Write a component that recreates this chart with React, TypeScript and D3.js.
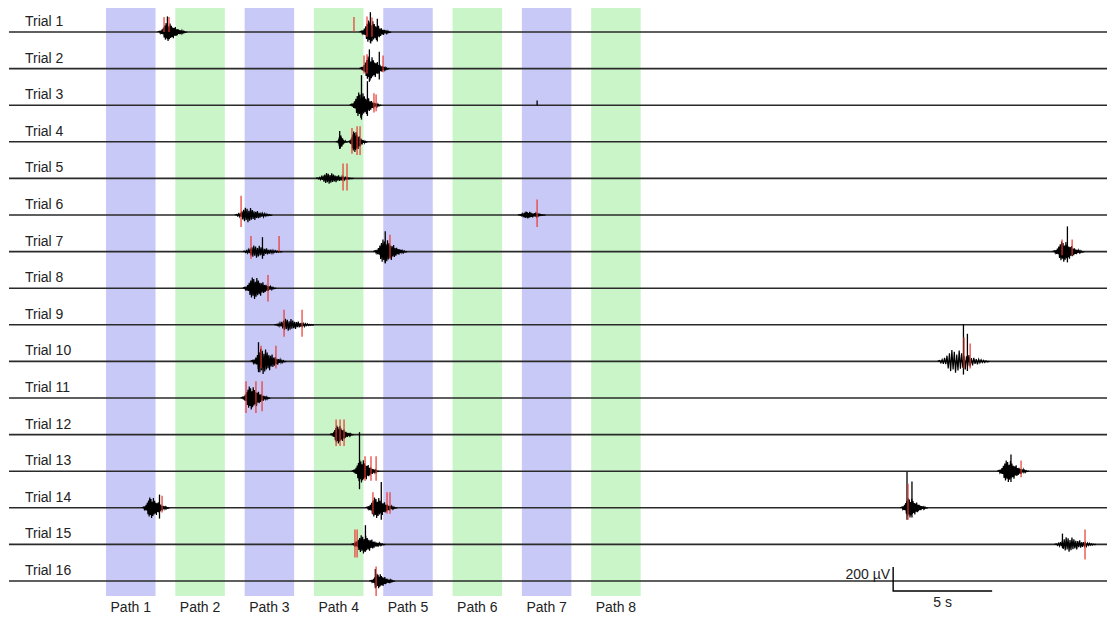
import React from 'react';
import * as d3 from 'd3';

// trial rows and path bands
const trialLabels = d3.range(1, 17).map((i) => 'Trial ' + i);
const pathLabels = d3.range(1, 9).map((i) => 'Path ' + i);
const pathStarts = [4.9, 8.4, 11.9, 15.4, 18.9, 22.4, 25.9, 29.4]; // s
const pathWidth = 2.5; // s

// bursts: [trial, start s, end s, amplitude µV]
const bursts = [
  [1, 7.6, 8.9, 75], [1, 17.8, 19.2, 95],
  [2, 17.8, 19.1, 100],
  [3, 17.3, 18.7, 105],
  [4, 16.6, 17.0, 55], [4, 17.2, 18.0, 85],
  [5, 15.6, 17.3, 45],
  [6, 11.5, 13.2, 60], [6, 25.8, 27.0, 28],
  [7, 11.9, 13.7, 50], [7, 18.5, 20.0, 100], [7, 52.8, 54.2, 85],
  [8, 11.9, 13.4, 90],
  [9, 13.5, 15.3, 50],
  [10, 12.3, 13.9, 105], [10, 47.0, 49.4, 95],
  [11, 11.8, 13.1, 95],
  [12, 16.3, 17.3, 75],
  [13, 17.4, 18.6, 95], [13, 50.0, 51.4, 90],
  [14, 6.8, 8.0, 85], [14, 18.1, 19.5, 85], [14, 45.1, 46.3, 80],
  [15, 17.4, 18.9, 75], [15, 52.9, 54.8, 60],
  [16, 18.3, 19.4, 60],
];

// burst waveform, read off a typical burst (normalised)
const burstShape = [
  0.08, -0.12, 0.15, -0.22, 0.3, -0.25, 0.5, -0.62, 0.72, -0.85, 1.0, -0.7,
  0.85, -1.0, 0.6, -0.8, 0.95, -0.65, 0.7, -0.55, 0.5, -0.7, 0.45, -0.4,
  0.55, -0.45, 0.3, -0.35, 0.32, -0.22, 0.2, -0.25, 0.18, -0.12, 0.14, -0.1,
  0.08, -0.09, 0.05, -0.04,
];

// large single spikes: [trial, t s, up µV, down µV]
const bigSpikes = [
  [1, 8.0, 130, 60], [1, 18.25, 165, 90], [1, 18.6, 110, 80],
  [2, 18.2, 160, 110], [2, 18.7, 140, 90],
  [3, 17.8, 250, 120], [3, 18.1, 200, 90], [3, 26.67, 40, 0],
  [4, 16.7, 90, 60],
  [7, 12.8, 120, 60], [7, 19.0, 170, 90], [7, 53.45, 210, 90],
  [10, 12.6, 160, 90], [10, 48.2, 310, 110], [10, 48.4, 230, 80],
  [13, 17.7, 325, 150], [13, 50.6, 140, 90],
  [14, 7.6, 110, 90], [14, 18.8, 215, 100], [14, 45.35, 300, 100], [14, 45.6, 220, 80],
  [15, 18.0, 160, 60], [15, 53.2, 90, 30],
  [16, 18.5, 100, 60],
];

// detected events (red): [trial, t s, up µV, down µV]
const events = [
  [1, 7.83, 125, 0], [1, 8.08, 125, 0], [1, 17.42, 125, 0], [1, 18.08, 130, 40], [1, 18.33, 120, 40],
  [2, 17.93, 110, 40], [2, 18.08, 120, 40], [2, 18.89, 110, 30],
  [3, 18.43, 100, 60], [3, 18.54, 90, 50],
  [4, 17.32, 115, 100], [4, 17.58, 130, 110], [4, 17.73, 130, 110],
  [5, 16.87, 125, 100], [5, 17.07, 125, 100],
  [6, 11.72, 160, 100], [6, 26.67, 130, 100],
  [7, 12.22, 130, 60], [7, 13.64, 130, 0], [7, 19.24, 140, 60], [7, 53.18, 100, 30], [7, 53.69, 100, 30],
  [8, 13.08, 110, 110],
  [9, 13.89, 125, 100], [9, 14.8, 125, 100],
  [10, 12.73, 130, 60], [10, 13.48, 130, 60], [10, 48.23, 200, 60], [10, 48.54, 150, 60],
  [11, 11.97, 140, 125], [11, 12.47, 140, 125], [11, 12.78, 140, 110],
  [12, 16.52, 125, 95], [12, 16.72, 125, 95], [12, 16.92, 125, 95],
  [13, 17.98, 125, 80], [13, 18.28, 125, 80], [13, 18.54, 125, 80], [13, 51.11, 90, 50],
  [14, 7.73, 100, 40], [14, 18.38, 130, 50], [14, 19.09, 130, 50], [14, 19.24, 130, 50], [14, 45.4, 200, 100],
  [15, 17.47, 125, 110], [15, 17.58, 125, 110], [15, 54.34, 125, 125],
  [16, 18.54, 120, 125],
];

const W = 1107, H = 617;
const font = '"Liberation Sans", Arial, sans-serif';

export default function App() {
  const x = d3.scaleLinear().domain([0, 55.5]).range([9, 1108]);
  const row = d3.scaleLinear().domain([1, 16]).range([32, 581]);
  const amp = d3.scaleLinear().domain([0, 200]).range([0, 24]); // 200 µV = 24 px

  const burstPath = (b: number[]) => {
    const [trial, t0, t1, a] = b;
    const n = burstShape.length;
    const pts: [number, number][] = burstShape.map((v, i) => [
      x(t0 + ((t1 - t0) * i) / (n - 1)),
      row(trial) - amp(v * a),
    ]);
    return d3.line()([[x(t0) - 2, row(trial)], ...pts, [x(t1) + 2, row(trial)]]);
  };

  return (
    <svg width={W} height={H} style={{ position: 'absolute', left: 0, top: 0, background: '#fff' }}>
      {pathStarts.map((s, i) => (
        <g key={'p' + i}>
          <rect x={x(s)} y={8} width={x(s + pathWidth) - x(s)} height={588}
            fill={i % 2 === 0 ? '#c9c9f7' : '#c9f5c9'} />
          <text x={x(s + pathWidth / 2)} y={612} textAnchor="middle" fontFamily={font} fontSize={14} fill="#222">
            {pathLabels[i]}
          </text>
        </g>
      ))}

      {trialLabels.map((lab, i) => (
        <g key={'t' + i}>
          <line x1={x(0)} x2={x(55.5)} y1={row(i + 1)} y2={row(i + 1)} stroke="#2a2a2a" strokeWidth={1.6} />
          <text x={25} y={row(i + 1) - 6} fontFamily={font} fontSize={14} fill="#222">{lab}</text>
        </g>
      ))}

      {bursts.map((b, i) => (
        <path key={'b' + i} d={burstPath(b) || ''} fill="none" stroke="#000" strokeWidth={1.2} />
      ))}

      {bigSpikes.map(([trial, t, up, down], i) => (
        <line key={'s' + i} x1={x(t)} x2={x(t)} y1={row(trial) - amp(up)} y2={row(trial) + amp(down)}
          stroke="#000" strokeWidth={1.3} />
      ))}

      {events.map(([trial, t, up, down], i) => (
        <line key={'e' + i} x1={x(t)} x2={x(t)} y1={row(trial) - amp(up)} y2={row(trial) + amp(down)}
          stroke="#e8352e" strokeOpacity={0.75} strokeWidth={1.6} />
      ))}

      {/* scale bar: 200 µV vertical, 5 s horizontal */}
      <path d={`M${x(44.65)},${row(16) + 10 - amp(200)} V${row(16) + 10} H${x(49.65)}`}
        fill="none" stroke="#000" strokeWidth={1.4} />
      <text x={x(44.65) - 3} y={579} textAnchor="end" fontFamily={font} fontSize={14} fill="#222">200 µV</text>
      <text x={x(47.15)} y={607} textAnchor="middle" fontFamily={font} fontSize={14} fill="#222">5 s</text>
    </svg>
  );
}
